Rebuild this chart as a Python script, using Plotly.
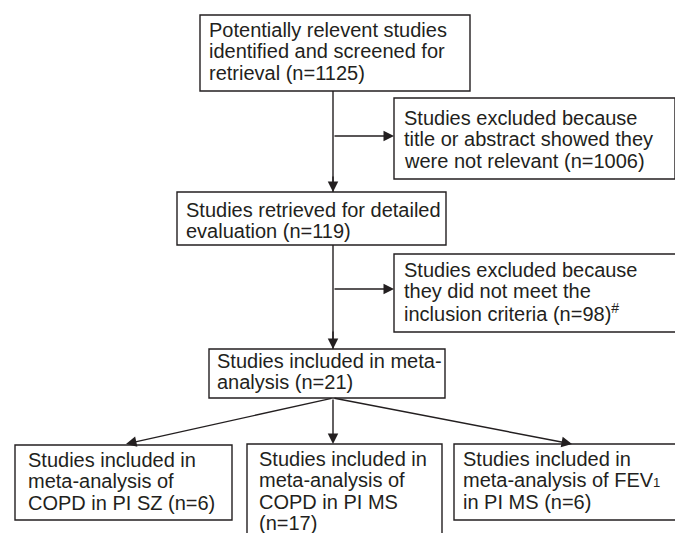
import plotly.graph_objects as go

# ---- content (data) ----
box_lines = [
    ["Potentially relevent studies", "identified and screened for", "retrieval (n=1125)"],
    ["Studies excluded because", "title or abstract showed they", "were not relevant (n=1006)"],
    ["Studies retrieved for detailed", "evaluation (n=119)"],
    ["Studies excluded because", "they did not meet the", "inclusion criteria (n=98)<sup>#</sup>"],
    ["Studies included in meta-", "analysis (n=21)"],
    ["Studies included in", "meta-analysis of", "COPD in PI SZ (n=6)"],
    ["Studies included in", "meta-analysis of", "COPD in PI MS", "(n=17)"],
    ["Studies included in", "meta-analysis of FEV<span style=\"font-size:13px\">1</span>", "in PI MS (n=6)"],
]

# ---- layout geometry (page pixels, y downward) ----
boxes = [  # x0, y0, x1, y1
    (200, 15, 470, 91),
    (394, 98, 675, 179),
    (177, 192, 446, 245),
    (394, 254, 678, 332),
    (209, 349, 445, 398),
    (15, 445, 232, 520),
    (247, 444, 442, 545),
    (454, 444, 677, 520),
]
text_left = [208, 403, 185, 403, 216, 27, 258, 462]
first_baseline = [37, 125, 217, 277, 368, 467, 466, 466]
line_step = 21.3
font_size = 20

plain_lines = [
    ((333, 91), (333, 192)),
    ((333, 245), (333, 349)),
]
arrows = [  # (start), (tip)
    ((333, 136), (394, 136)),
    ((333, 175), (333, 192)),
    ((333, 289), (394, 289)),
    ((333, 330), (333, 349)),
    ((333, 398), (126, 444)),
    ((333, 398), (333, 444)),
    ((333, 398), (572, 444)),
]

W, H = 683, 533
OFF = 8  # page body margin
col = "#231f20"
fig = go.Figure()
fig.add_trace(go.Scatter(x=[OFF, W], y=[OFF, H], mode="markers", marker=dict(opacity=0),
                         hoverinfo="skip", showlegend=False))

shapes = []
for (x0, y0, x1, y1) in boxes:
    shapes.append(dict(type="rect", x0=x0, y0=y0, x1=x1, y1=y1, xref="x", yref="y",
                       line=dict(color=col, width=1.4), fillcolor="white", layer="below"))
for (a, b) in plain_lines:
    shapes.append(dict(type="line", x0=a[0], y0=a[1], x1=b[0], y1=b[1], xref="x", yref="y",
                       line=dict(color=col, width=1.4)))

annotations = []
for (a, b) in arrows:
    annotations.append(dict(x=b[0], y=b[1], ax=a[0], ay=a[1], xref="x", yref="y", axref="x", ayref="y",
                            text="", showarrow=True, arrowhead=2, arrowsize=1.5, arrowwidth=1.4,
                            arrowcolor=col, standoff=0, startstandoff=0))

for i, lines in enumerate(box_lines):
    for j, t in enumerate(lines):
        base = first_baseline[i] + j * line_step
        annotations.append(dict(x=text_left[i], y=base - 0.35 * font_size, xref="x", yref="y",
                                text=t, showarrow=False, xanchor="left", yanchor="middle",
                                align="left", borderpad=0,
                                font=dict(family="Liberation Sans, Arial, sans-serif", size=font_size, color=col)))

fig.update_layout(
    width=W - OFF, height=H - OFF, margin=dict(l=0, r=0, t=0, b=0),
    paper_bgcolor="white", plot_bgcolor="white",
    xaxis=dict(range=[OFF, W], visible=False, fixedrange=True),
    yaxis=dict(range=[H, OFF], visible=False, fixedrange=True),
    shapes=shapes, annotations=annotations, showlegend=False,
)
fig.write_html("out.html")
